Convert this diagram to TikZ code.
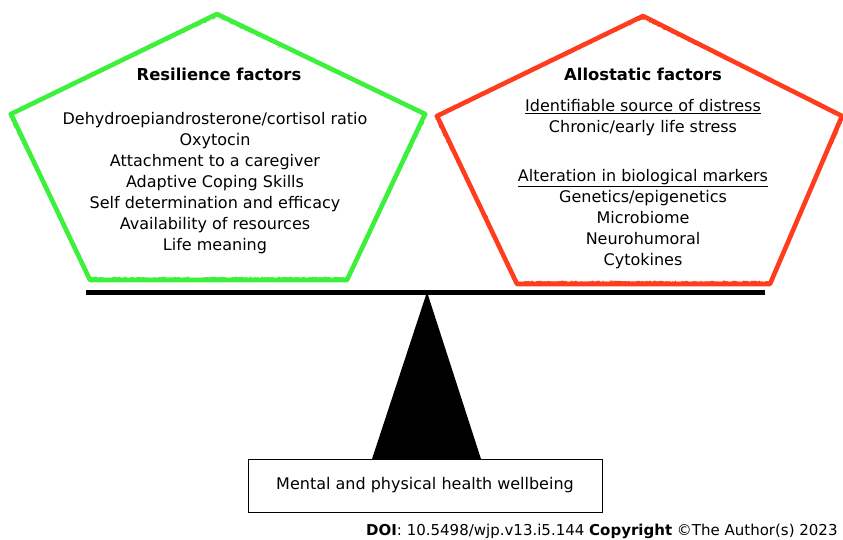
\documentclass[tikz,border=0pt]{standalone}
\usepackage{fontspec}
\setmainfont{DejaVu Sans}
\usetikzlibrary{decorations.pathmorphing}
\definecolor{resgreen}{RGB}{60,240,60}
\definecolor{allred}{RGB}{255,60,30}
\tikzset{
  pent/.style={line width=4.6pt, line join=round},
  rough/.style={line width=1pt, decorate, decoration={random steps, segment length=1.2pt, amplitude=0.9pt}},
  txt/.style={font=\fontsize{16}{21}\selectfont, align=center, inner sep=0pt},
  ttl/.style={font=\fontsize{16.4}{21}\selectfont\bfseries, inner sep=0pt},
}
\begin{document}
\begin{tikzpicture}[x=1pt,y=-1pt]
\useasboundingbox (0,0) rectangle (843,539);
\clip (0,0) rectangle (843,539);
% green pentagon
\coordinate (g1) at (217,14);
\coordinate (g2) at (425,114);
\coordinate (g3) at (347,280);
\coordinate (g4) at (90,280);
\coordinate (g5) at (11,114);
\draw[pent, resgreen] (g1) -- (g2) -- (g3) -- (g4) -- (g5) -- cycle;
\draw[rough, resgreen] ([yshift=-2pt]g1) -- ([xshift=2pt]g2) -- ([yshift=2pt]g3) -- ([yshift=2pt]g4) -- ([xshift=-2pt]g5) -- cycle;
% red pentagon
\coordinate (r1) at (643,16);
\coordinate (r2) at (842,116);
\coordinate (r3) at (770,284);
\coordinate (r4) at (517,284);
\coordinate (r5) at (437,116);
\draw[pent, allred] (r1) -- (r2) -- (r3) -- (r4) -- (r5) -- cycle;
\draw[rough, allred] ([yshift=-2pt]r1) -- ([xshift=2pt]r2) -- ([yshift=2pt]r3) -- ([yshift=2pt]r4) -- ([xshift=-2pt]r5) -- cycle;
% texts left
\node[ttl] (rt) at (219,74) {Resilience factors};
\node[txt, anchor=north] (rl) at (215,112) {Dehydroepiandrosterone/cortisol ratio\\Oxytocin\\Attachment to a caregiver\\Adaptive Coping Skills\\Self determination and efficacy\\Availability of resources\\Life meaning};
% texts right
\node[ttl] (at) at (643,74) {Allostatic factors};
\node[txt, anchor=north] (a1) at (643,99) {\underline{Identifiable source of distress}\\Chronic/early life stress};
\node[txt, anchor=north] (a2) at (643,169) {\underline{Alteration in biological markers}\\Genetics/epigenetics\\Microbiome\\Neurohumoral\\Cytokines};
% beam and fulcrum
\fill (86,289.5) rectangle (765,295);
\coordinate (apex) at (427,292);
\fill (apex) -- (481,459) -- (372,459) -- cycle;
\node[draw, line width=0.7pt, minimum width=354pt, minimum height=53pt, inner sep=0pt, font=\fontsize{16}{19}\selectfont] (box) at (425,485.5) {Mental and physical health wellbeing};
% DOI
\node[anchor=base west, inner sep=0pt, font=\fontsize{15}{18}\selectfont] (doi) at (366,535) {\textbf{DOI}: 10.5498/wjp.v13.i5.144 \textbf{Copyright} \textcopyright The Author(s) 2023};
\end{tikzpicture}
\end{document}
